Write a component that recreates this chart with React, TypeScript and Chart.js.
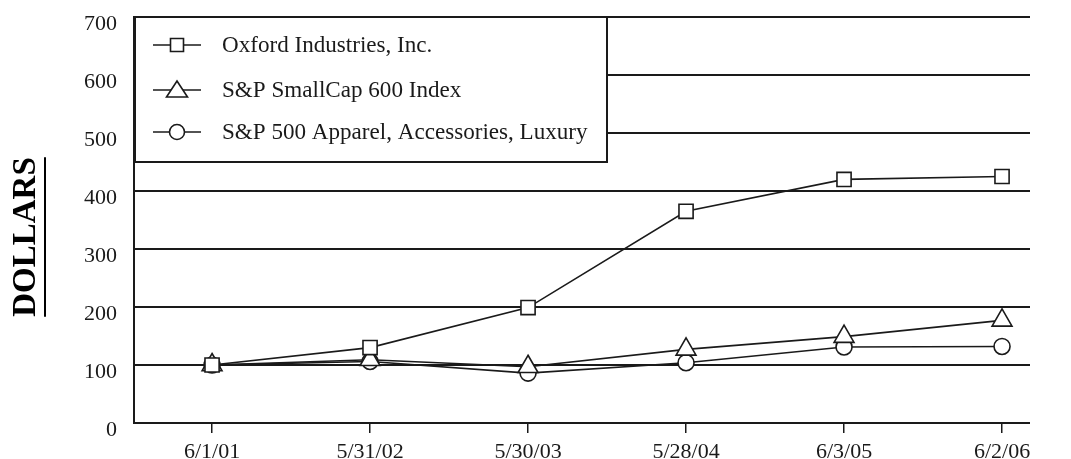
import React, { useEffect, useRef } from 'react';
import { Chart, registerables } from 'chart.js';

Chart.register(...registerables);

const categories = ['6/1/01', '5/31/02', '5/30/03', '5/28/04', '6/3/05', '6/2/06'];
const oxford = [100, 130, 199, 365, 420, 425];
const smallCap = [100, 109, 97, 127, 149, 177];
const apparel = [100, 106, 86, 104, 131, 132];
const yTicks = [0, 100, 200, 300, 400, 500, 600, 700];
const seriesNames = [
  'Oxford Industries, Inc.',
  'S&P SmallCap 600 Index',
  'S&P 500 Apparel, Accessories, Luxury',
];
const seriesValues = [oxford, smallCap, apparel];
const pointStyles = ['rect', 'triangle', 'circle'];
const pointRadii = [10, 11.5, 8];
const yTitle = 'DOLLARS';

const FONT = '"Liberation Serif", "Times New Roman", serif';
const INK = '#1a1a1a';

const legendPlugin = {
  id: 'boxLegend',
  afterDraw(chart: any) {
    const { ctx, chartArea } = chart;
    const x0 = chartArea.left + 1;
    const y0 = chartArea.top;
    const w = 472;
    const h = 145;
    ctx.save();
    ctx.fillStyle = '#ffffff';
    ctx.fillRect(x0, y0, w, h);
    ctx.strokeStyle = INK;
    ctx.lineWidth = 2;
    ctx.strokeRect(x0, y0, w, h);
    const rowsY = [y0 + 28, y0 + 73, y0 + 115];
    seriesNames.forEach((name, i) => {
      const y = rowsY[i];
      const mx = x0 + 42;
      ctx.strokeStyle = INK;
      ctx.lineWidth = 1.5;
      ctx.beginPath();
      ctx.moveTo(mx - 24, y);
      ctx.lineTo(mx + 24, y);
      ctx.stroke();
      ctx.fillStyle = '#fff';
      ctx.lineWidth = 1.6;
      ctx.beginPath();
      if (pointStyles[i] === 'rect') {
        ctx.rect(mx - 6.5, y - 6.5, 13, 13);
      } else if (pointStyles[i] === 'triangle') {
        ctx.moveTo(mx, y - 9);
        ctx.lineTo(mx + 10.5, y + 7);
        ctx.lineTo(mx - 10.5, y + 7);
        ctx.closePath();
      } else {
        ctx.arc(mx, y, 7.5, 0, Math.PI * 2);
      }
      ctx.fill();
      ctx.stroke();
      ctx.fillStyle = INK;
      ctx.font = `23.1px ${FONT}`;
      ctx.textAlign = 'left';
      ctx.textBaseline = 'middle';
      ctx.fillText(name, x0 + 87, y + 1);
    });
    ctx.restore();
  },
};

const yTitlePlugin = {
  id: 'yTitle',
  afterDraw(chart: any) {
    const { ctx, chartArea } = chart;
    const cx = 26;
    const cy = (chartArea.top + chartArea.bottom) / 2 + 17;
    ctx.save();
    ctx.translate(cx, cy);
    ctx.rotate(-Math.PI / 2);
    ctx.font = `bold 33px ${FONT}`;
    ctx.fillStyle = '#000';
    ctx.textAlign = 'center';
    ctx.textBaseline = 'middle';
    ctx.fillText(yTitle, 0, 0);
    const tw = ctx.measureText(yTitle).width;
    ctx.strokeStyle = '#000';
    ctx.lineWidth = 2;
    ctx.beginPath();
    ctx.moveTo(-tw / 2, 19);
    ctx.lineTo(tw / 2, 19);
    ctx.stroke();
    ctx.restore();
  },
};

export default function App() {
  const ref = useRef<HTMLCanvasElement | null>(null);
  useEffect(() => {
    document.body.style.margin = '0';
    if (!ref.current) return;
    const chart = new Chart(ref.current, {
      type: 'line',
      data: {
        datasets: seriesValues.map((vals, i) => ({
          label: seriesNames[i],
          data: vals.map((v, j) => ({ x: j, y: v })),
          borderColor: INK,
          borderWidth: 1.6,
          backgroundColor: '#ffffff',
          pointBackgroundColor: '#ffffff',
          pointBorderColor: INK,
          pointBorderWidth: 1.6,
          pointStyle: pointStyles[i] as any,
          pointRadius: pointRadii[i],
          tension: 0,
          fill: false,
        })),
      },
      options: {
        animation: false,
        responsive: false,
        events: [],
        layout: { padding: { top: 17, right: 41, bottom: 0, left: 0 } },
        plugins: { legend: { display: false }, tooltip: { enabled: false } },
        scales: {
          x: {
            type: 'linear',
            min: -0.494,
            max: 5.177,
            afterFit(scale: any) {
              scale.height = 36;
            },
            afterBuildTicks(scale: any) {
              scale.ticks = categories.map((_, i) => ({ value: i }));
            },
            ticks: {
              callback: (v: any) => categories[v as number] ?? '',
              font: { family: FONT, size: 22 },
              color: INK,
              padding: 6,
              maxRotation: 0,
              autoSkip: false,
            },
            grid: {
              display: true,
              drawOnChartArea: false,
              drawTicks: true,
              tickLength: 10,
              color: INK,
              lineWidth: 1.5,
            },
            border: { display: false },
          },
          y: {
            min: 0,
            max: 700,
            afterFit(scale: any) {
              scale.width = 134;
              scale.paddingTop = 0;
              scale.paddingBottom = 0;
            },
            afterBuildTicks(scale: any) {
              scale.ticks = yTicks.map((v) => ({ value: v }));
            },
            ticks: {
              font: { family: FONT, size: 22 },
              color: INK,
              padding: 17,
              labelOffset: 7,
            },
            grid: {
              color: INK,
              lineWidth: 2,
              drawTicks: false,
            },
            border: { display: true, color: INK, width: 2 },
          },
        },
      },
      plugins: [legendPlugin, yTitlePlugin],
    });
    return () => chart.destroy();
  }, []);
  return (
    <div style={{ width: 1071, height: 459, background: '#fff' }}>
      <canvas ref={ref} width={1071} height={459} style={{ display: 'block' }} />
    </div>
  );
}
